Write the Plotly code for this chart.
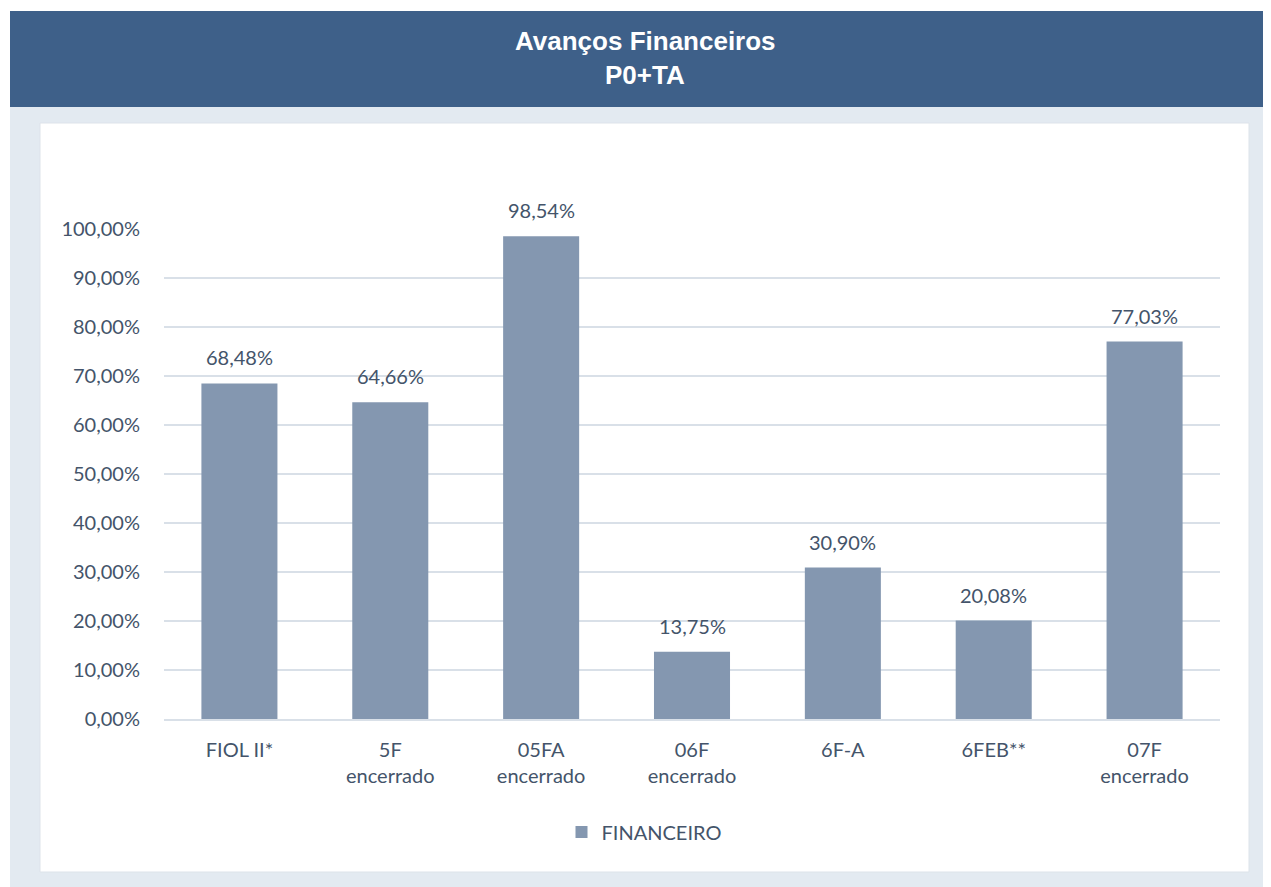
import plotly.graph_objects as go

categories = ["FIOL II*", "5F<br>encerrado", "05FA<br>encerrado", "06F<br>encerrado", "6F-A", "6FEB**", "07F<br>encerrado"]
financeiro = [68.48, 64.66, 98.54, 13.75, 30.90, 20.08, 77.03]
tick_vals = [0, 10, 20, 30, 40, 50, 60, 70, 80, 90, 100]
tick_text = ["0,00%", "10,00%", "20,00%", "30,00%", "40,00%", "50,00%", "60,00%", "70,00%", "80,00%", "90,00%", "100,00%"]
data_labels = ["68,48%", "64,66%", "98,54%", "13,75%", "30,90%", "20,08%", "77,03%"]
title_lines = ["Avanços Financeiros", "P0+TA"]

OFF = 8  # page body margin
W, H = 1271 - OFF, 887 - OFF
L, R, T, B = 164 - OFF, 1220 - OFF, 229 - OFF, 719 - OFF
pw, ph = R - L, B - T

def px(x):
    return (x - OFF - L) / pw

def py(y):
    return (B - (y - OFF)) / ph

TEXT = "#44546A"
FONT = "Lato"
FS = 20

fig = go.Figure()
fig.add_trace(go.Bar(
    x=categories, y=financeiro, name="FINANCEIRO",
    marker=dict(color="#8497B0", line=dict(width=0)),
))

shapes = [
    dict(type="rect", xref="paper", yref="paper", x0=px(10), x1=px(1280), y0=py(895), y1=py(107),
         fillcolor="#E3EAF1", line=dict(width=0), layer="below"),
    dict(type="rect", xref="paper", yref="paper", x0=px(10), x1=px(1280), y0=py(107), y1=py(11),
         fillcolor="#3E6089", line=dict(width=0), layer="below"),
    dict(type="rect", xref="paper", yref="paper", x0=px(40), x1=px(1249), y0=py(872), y1=py(123),
         fillcolor="#FFFFFF", line=dict(width=1, color="#DDE3EA"), layer="below"),
]

annotations = []
for yy, t in zip([41, 75], title_lines):
    annotations.append(dict(text="<b>" + t + "</b>", xref="paper", yref="paper", x=px(645), y=py(yy),
                            xanchor="center", yanchor="middle", showarrow=False,
                            font=dict(family="Liberation Sans, Arial", size=26, color="#FFFFFF")))
for c, v, lab in zip(categories, financeiro, data_labels):
    annotations.append(dict(text=lab, x=c, y=v, xref="x", yref="y", yanchor="bottom", xanchor="center",
                            yshift=12, showarrow=False, font=dict(family=FONT, size=FS, color=TEXT)))

fig.update_layout(
    width=W, height=H,
    margin=dict(l=L, r=W - R, t=T, b=H - B, pad=0),
    paper_bgcolor="#FFFFFF", plot_bgcolor="rgba(0,0,0,0)",
    font=dict(family=FONT, size=FS, color=TEXT),
    bargap=0.496,
    showlegend=True,
    legend=dict(orientation="h", x=px(644), xanchor="center", y=py(832), yanchor="middle",
                font=dict(family=FONT, size=FS, color=TEXT), itemwidth=30, bgcolor="rgba(0,0,0,0)"),
    shapes=shapes,
    annotations=annotations,
)
fig.update_xaxes(showgrid=False, showline=True, linecolor="#D9E0E8", linewidth=2,
                 tickfont=dict(family=FONT, size=FS, color=TEXT), ticks="", ticklabelstandoff=12)
fig.update_yaxes(range=[0, 100], tickvals=tick_vals, ticktext=tick_text, showgrid=True,
                 gridcolor="#D9E0E8", gridwidth=2, zeroline=False, showline=False, ticks="",
                 tickfont=dict(family=FONT, size=FS, color=TEXT), ticklabelstandoff=23)

fig.write_html("out.html")
